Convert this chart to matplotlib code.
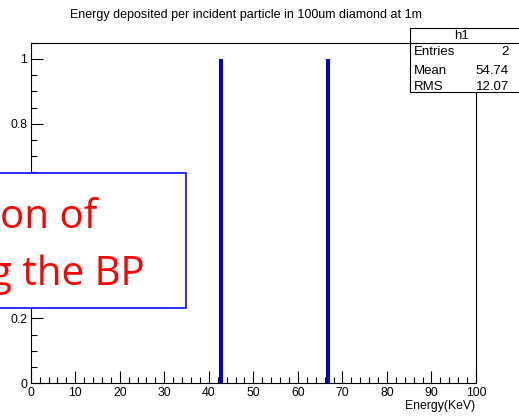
import numpy as np
import matplotlib
matplotlib.use("Agg")
import matplotlib.pyplot as plt
from matplotlib.patches import Rectangle
from matplotlib.ticker import MultipleLocator

# deposited energy of each incident particle (keV) and histogram counts
energies = [42.67, 66.81]
counts = [1, 1]

title = "Energy deposited per incident particle in 100um diamond at 1m"
hist_name = "h1"
x_label = "Energy(KeV)"
y_ticks = [0, 0.2, 0.4, 0.6, 0.8, 1.0]
y_tick_labels = ["0", "0.2", "0.4", "0.6", "0.8", "1"]
x_ticks = [0, 10, 20, 30, 40, 50, 60, 70, 80, 90, 100]
overlay_lines = ["on of", "g the BP"]

plt.rcParams['font.family'] = ['Liberation Sans', 'DejaVu Sans']

W, H = 519, 419
fig = plt.figure(figsize=(W / 100, H / 100), dpi=100)


def fx(px):
    return px / W


def fy(py):
    return 1 - py / H


ax = fig.add_axes([fx(30.7), fy(383.3), fx(476) - fx(30.7), fy(42.7) - fy(383.3)])
ax.vlines(energies, 0, counts, colors='#0000cc', linewidth=2.9)
ax.set_xlim(0, 100)
ax.set_ylim(0, 1.05)

ax.set_xticks(x_ticks)
ax.set_xticklabels([str(t) for t in x_ticks])
ax.xaxis.set_minor_locator(MultipleLocator(2))
ax.set_yticks(y_ticks)
ax.set_yticklabels(y_tick_labels)
ax.yaxis.set_minor_locator(MultipleLocator(0.05))
ax.tick_params(which='both', direction='in', top=False, right=False,
               width=0.8, labelsize=8.8)
ax.tick_params(which='major', length=8.5, pad=2.5)
ax.tick_params(which='minor', length=4.3)
for s in ax.spines.values():
    s.set_linewidth(0.8)

fig.text(fx(475), fy(406), x_label, ha='right', va='center', fontsize=8.8)
fig.text(fx(246), fy(18), title, ha='center', va='baseline', fontsize=9)

# stats box
n = len(energies)
mean = np.mean(energies)
rms = np.std(energies)
fig.patches.append(Rectangle((fx(410), fy(91.7)), fx(525) - fx(410), fy(28) - fy(91.7),
                             transform=fig.transFigure, facecolor='white',
                             edgecolor='black', linewidth=0.8, zorder=5))
fig.lines.append(plt.Line2D([fx(410), fx(525)], [fy(43.3), fy(43.3)],
                            transform=fig.transFigure, color='black',
                            linewidth=0.8, zorder=6))
fig.text(fx(462), fy(35.7), hist_name, ha='center', va='center', fontsize=9.5, zorder=7)
rows = [("Entries", f"{n}"), ("Mean", f"{mean:.2f}"), ("RMS", f"{rms:.2f}")]
for (name, val), yy in zip(rows, [51.7, 70.7, 86.7]):
    fig.text(fx(414), fy(yy), name, ha='left', va='center', fontsize=9.5, zorder=7)
    fig.text(fx(509), fy(yy), val, ha='right', va='center', fontsize=9.5, zorder=7)

# slide text box laid over the plot
fig.patches.append(Rectangle((fx(-5), fy(308)), fx(186) - fx(-5), fy(173) - fy(308),
                             transform=fig.transFigure, facecolor='white',
                             edgecolor='#1a1aff', linewidth=1.3, zorder=8))
for line, (xe, yb) in zip(overlay_lines, [(97, 228), (145, 285)]):
    fig.text(fx(xe), fy(yb), line, ha='right', va='baseline', color='#ff0000',
             fontsize=29, family=['Open Sans', 'DejaVu Sans'], zorder=9)

fig.savefig("out.png", dpi=100)
